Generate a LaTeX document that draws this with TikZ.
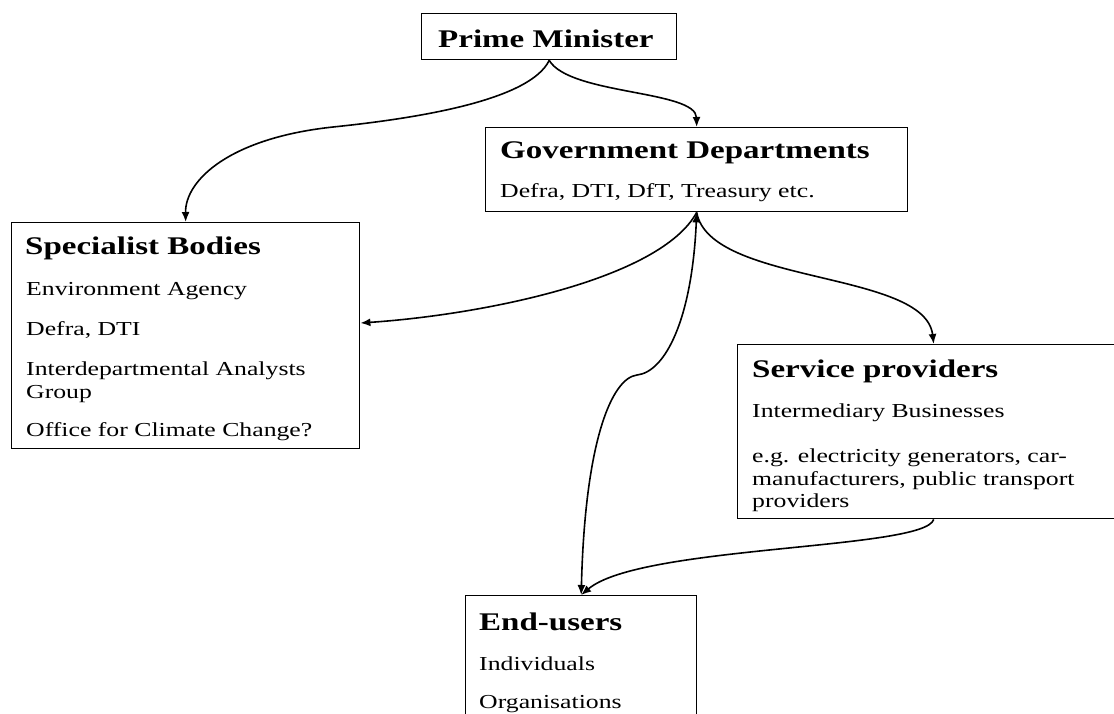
\documentclass[tikz,border=0pt]{standalone}
\usepackage{fontspec}
\setmainfont{Liberation Serif}[FakeStretch=1.3]
\usetikzlibrary{arrows.meta}
\tikzset{
  box/.style={draw, line width=1.4pt, rectangle, inner sep=0pt, anchor=north west},
  ttl/.style={inner sep=0pt, anchor=base west, font=\fontsize{25.4}{30}\selectfont\bfseries},
  txt/.style={inner sep=0pt, anchor=base west, font=\fontsize{19.8}{24}\selectfont},
  conn/.style={line width=1.6pt, -{Latex[length=10pt,width=8pt]}},
  conn2/.style={line width=1.6pt, {Latex[length=10pt,width=8pt]}-{Latex[length=10pt,width=8pt]}}
}
\begin{document}
\begin{tikzpicture}[x=1pt,y=-1pt]
\useasboundingbox (0,0) rectangle (1114,713);
\clip (0,0) rectangle (1114,713);
\fill[white] (0,0) rectangle (1114,713);
% boxes
\node[box, minimum width=255pt, minimum height=46pt] (pm) at (421,13) {};
\node[box, minimum width=422pt, minimum height=84pt] (gov) at (485,127) {};
\node[box, minimum width=348pt, minimum height=226pt] (spec) at (11,222) {};
\node[box, minimum width=392pt, minimum height=174pt] (serv) at (737,344) {};
\node[box, minimum width=231pt, minimum height=170pt] (end) at (465,595) {};
% texts
\node[ttl] (pmt) at (438,47) {Prime Minister};
\node[ttl] (govt) at (500,158) {Government Departments};
\node[txt] (gov1) at (500,197) {Defra, DTI, DfT, Treasury etc.};
\node[ttl] (spect) at (25,254) {Specialist Bodies};
\node[txt] (spec1) at (26,295) {Environment Agency};
\node[txt] (spec2) at (26,335) {Defra, DTI};
\node[txt] (spec3) at (26,375) {Interdepartmental Analysts};
\node[txt] (spec4) at (26,398) {Group};
\node[txt] (spec5) at (26,436) {Office for Climate Change?};
\node[ttl] (servt) at (752,377) {Service providers};
\node[txt] (serv1) at (752,417) {Intermediary Businesses};
\node[txt] (serv2) at (752,462) {e.g. electricity generators, car-};
\node[txt] (serv3) at (752,485) {manufacturers, public transport};
\node[txt] (serv4) at (752,507) {providers};
\node[ttl] (endt) at (479,630) {End-users};
\node[txt] (end1) at (479,670) {Individuals};
\node[txt] (end2) at (479,708) {Organisations};
% connectors
\coordinate (specin) at ([yshift=-101pt]spec.north east);
\coordinate (kink) at (637,375);
\coordinate (pmmid) at (333,127);
\draw[conn] (pm.south) .. controls (570,95) and (696,90) .. (gov.north);
\draw[conn] (pm.south) .. controls (530,100) and (420,118) .. (pmmid) .. controls (230,138) and (185,180) .. (spec.north);
\draw[conn] (gov.south) .. controls (660,280) and (480,315) .. (specin);
\draw[conn] (gov.south) .. controls (710,285) and (925,270) .. (serv.north);
\draw[conn2] (gov.south) .. controls (692,320) and (665,372) .. (kink) .. controls (612,378) and (585,440) .. (end.north);
\draw[conn] (serv.south) .. controls (925,550) and (640,545) .. (end.north);
\end{tikzpicture}
\end{document}
